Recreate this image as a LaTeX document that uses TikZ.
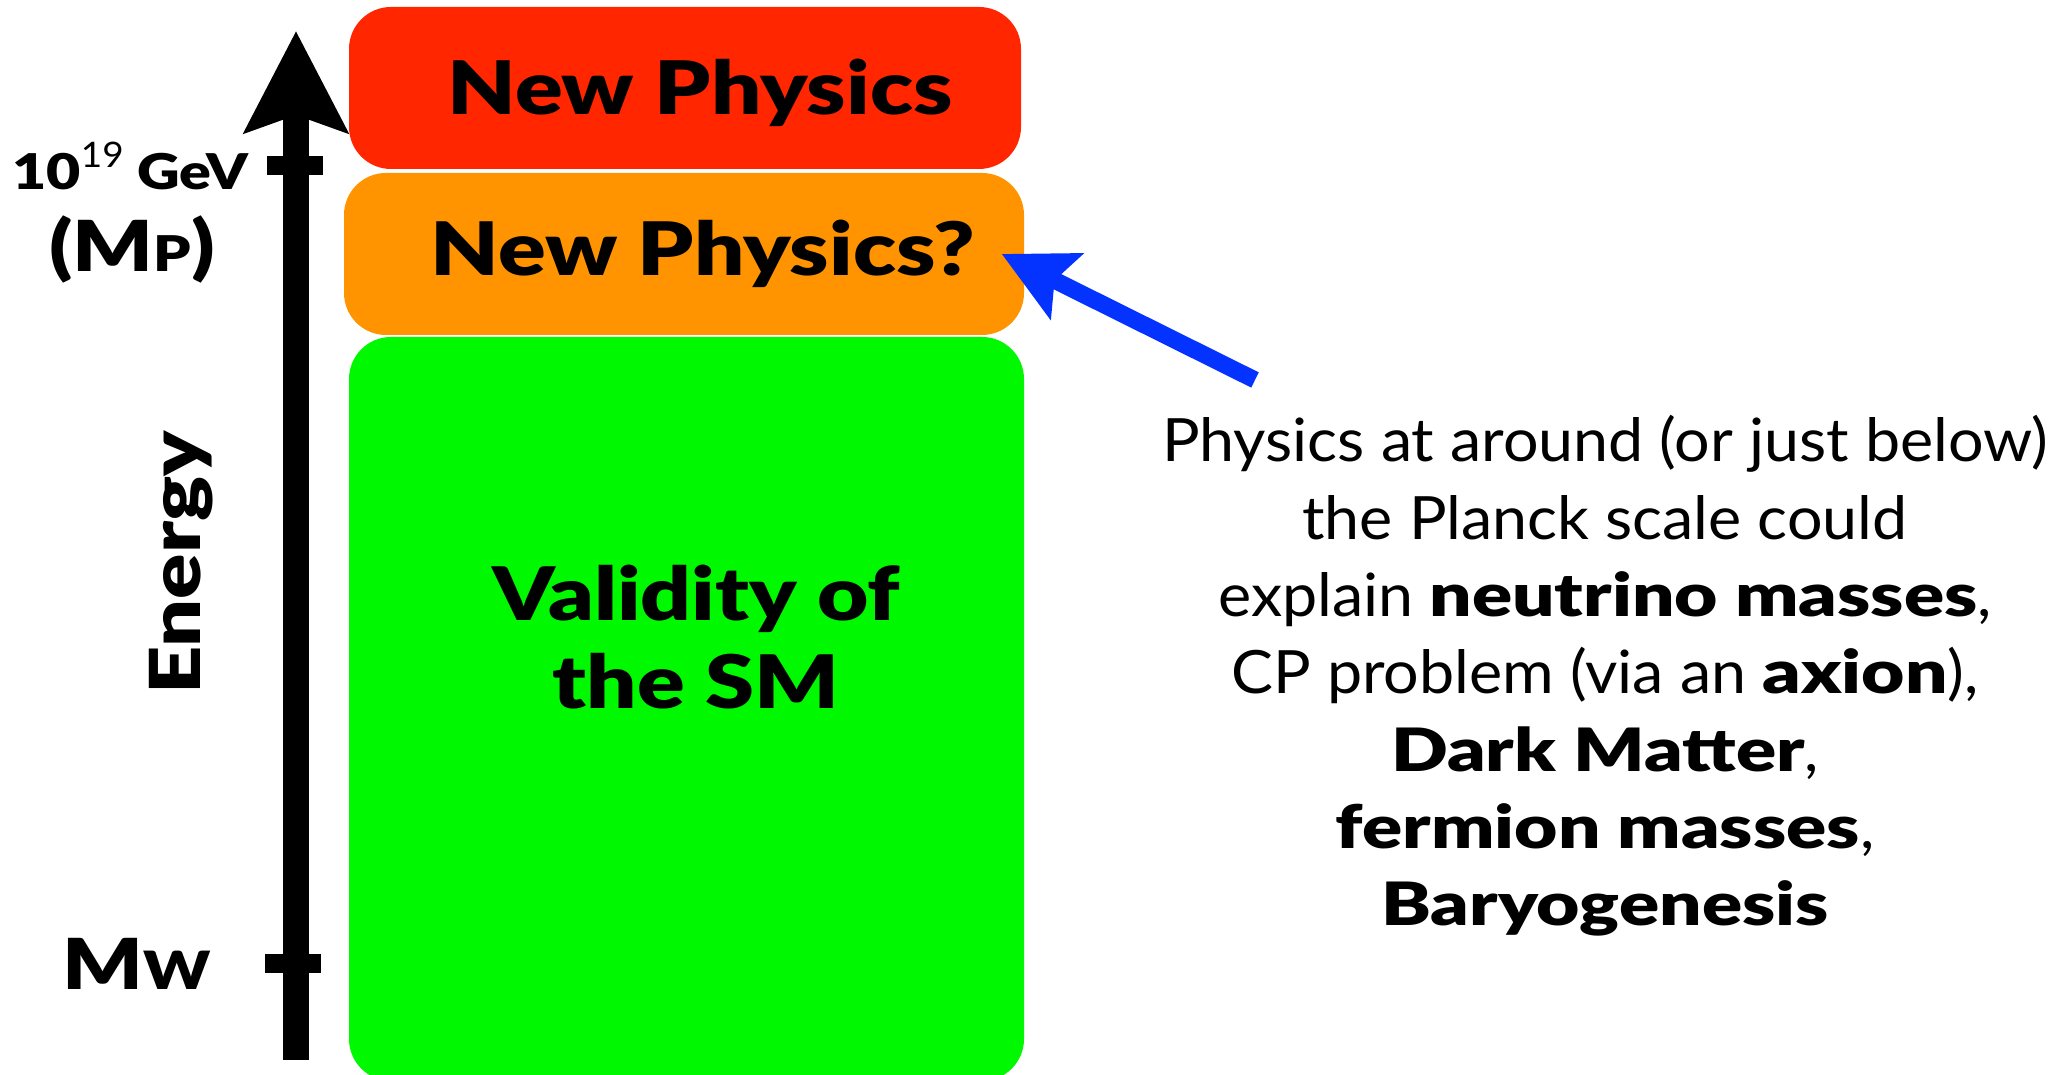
\documentclass[tikz,border=0pt]{standalone}
\usepackage{xcolor}
\usepackage{fontspec}
\setmainfont{Lato}[FakeStretch=1.05, BoldFont={Lato Black}, BoldFeatures={FakeStretch=1.25}]
\newfontfamily\heavy{Lato Black}[FakeStretch=1.2]
\usepackage{tikz}
\usetikzlibrary{positioning, arrows.meta}

\definecolor{boxred}{HTML}{FF2600}
\definecolor{boxorange}{HTML}{FF9300}
\definecolor{boxgreen}{HTML}{00F900}
\definecolor{arrowblue}{HTML}{0433FF}

\begin{document}
\begin{tikzpicture}[
    scalebox/.style={rounded corners=0.42cm, inner sep=0pt},
    boxtitle/.style={font=\heavy\fontsize{21}{25}\selectfont, align=center},
    scaletick/.style={fill=black, minimum width=0.56cm, minimum height=0.19cm, inner sep=0pt},
    scalelabel/.style={font=\heavy\fontsize{20}{22}\selectfont, align=center, inner sep=0pt}
]
\useasboundingbox (0,0) rectangle (20.66,10.75);

% energy boxes
\node[scalebox, fill=boxred, minimum width=6.72cm, minimum height=1.62cm] (np) at (6.85,9.87) {};
\node[scalebox, fill=boxorange, minimum width=6.80cm, minimum height=1.62cm] (np2) at (6.84,8.21) {};
\node[scalebox, fill=boxgreen, minimum width=6.75cm, minimum height=7.44cm] (sm) at (6.865,3.66) {};
\node[boxtitle] (nptext) at ([xshift=0.15cm, yshift=-0.05cm]np.center) {New Physics};
\node[boxtitle] (np2text) at ([xshift=0.19cm]np2.center) {New Physics?};
\node[boxtitle] (smtext) at (6.96,4.38) {Validity of\\the SM};

% energy axis
\coordinate (axbot) at (2.96,0.15);
\coordinate (axtop) at (2.96,10.44);
\draw[line width=0.26cm, -{Stealth[length=1.01cm, width=1.02cm, inset=0.17cm]}] (axbot) -- (axtop);
\node[scaletick] (tpl) at (2.95,9.09) {};
\node[scaletick] (tmw) at (2.93,1.11) {};
\node[scalelabel, font=\heavy\fontsize{14}{18}\selectfont, left=0.17cm of tpl] (gev) {10\raisebox{0.45em}{\normalfont\fontsize{10}{10}\selectfont 19} GeV};
\node[scalelabel] (mp) at (1.32,8.25) {(M{\fontsize{14}{14}\selectfont P})};
\node[scalelabel, left=0.53cm of tmw] (mw) {M{\fontsize{15}{15}\selectfont W}};
\node[font=\heavy\fontsize{20}{22}\selectfont, rotate=90] (energy) at (1.81,5.12) {Energy};

% comment on the planck scale
\node[align=center, font=\fontsize{17}{22}\selectfont] (planck) at (16.05,3.99) {Physics at around (or just below)\\
    the Planck scale could\\
    explain \textbf{neutrino masses},\\
    CP problem (via an \textbf{axion}),\\
    \textbf{Dark Matter},\\
    \textbf{fermion masses},\\
    \textbf{Baryogenesis}};
\coordinate (bluetail) at (12.55,6.95);
\draw[arrowblue, line width=0.17cm, -{Stealth[length=0.72cm, width=0.72cm, inset=0.13cm]}] (bluetail) -- ([xshift=-0.23cm]np2.east);
\end{tikzpicture}
\end{document}
